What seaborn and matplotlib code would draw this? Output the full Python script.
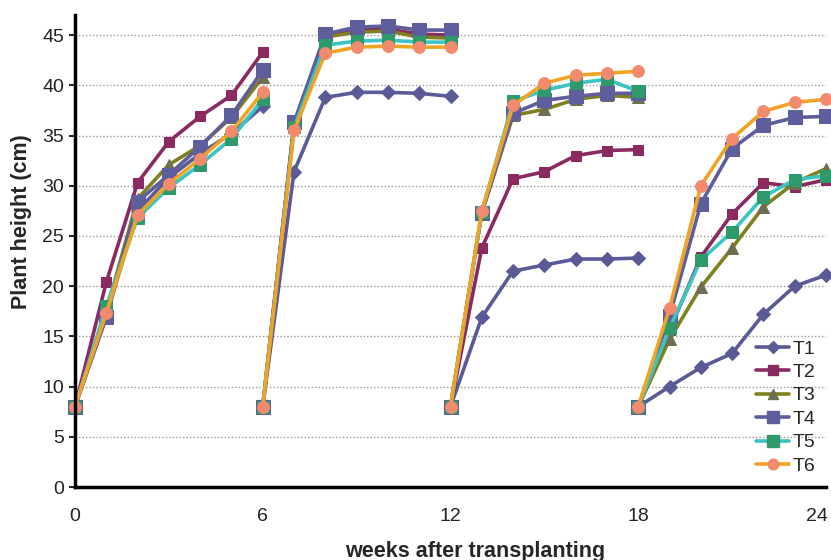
import numpy as np
import pandas as pd
import matplotlib
matplotlib.use("Agg")
import matplotlib.pyplot as plt
import matplotlib.transforms as mtransforms
import seaborn as sns
from matplotlib.lines import Line2D

# ================================
# DATA
# ================================
seg_weeks = [
    [0, 1, 2, 3, 4, 5, 6],
    [6, 7, 8, 9, 10, 11, 12],
    [12, 13, 14, 15, 16, 17, 18],
    [18, 19, 20, 21, 22, 23, 24],
]
treatments = ["T1", "T2", "T3", "T4", "T5", "T6"]

t1 = [[8, 17.0, 27.5, 30.8, 33.2, 35.2, 37.9],
      [8, 31.4, 38.8, 39.3, 39.3, 39.2, 38.9],
      [8, 16.9, 21.5, 22.1, 22.7, 22.7, 22.8],
      [8, 10.0, 11.9, 13.3, 17.2, 20.0, 21.1]]
t2 = [[8, 20.4, 30.3, 34.4, 36.9, 39.0, 43.3],
      [8, 36.0, 45.0, 45.5, 45.6, 45.1, 45.0],
      [8, 23.8, 30.7, 31.4, 33.0, 33.5, 33.6],
      [8, 15.6, 22.9, 27.2, 30.3, 29.9, 30.6]]
t3 = [[8, 17.5, 28.7, 32.1, 34.0, 36.8, 40.8],
      [8, 36.0, 44.8, 45.3, 45.4, 44.8, 44.7],
      [8, 27.3, 37.0, 37.6, 38.6, 39.0, 38.8],
      [8, 14.7, 19.9, 23.8, 27.9, 30.3, 31.7]]
t4 = [[8, 16.9, 28.4, 31.1, 33.9, 37.0, 41.5],
      [8, 36.3, 45.1, 45.8, 45.9, 45.5, 45.5],
      [8, 27.3, 37.2, 38.5, 38.9, 39.2, 39.2],
      [8, 17.0, 28.2, 33.7, 36.0, 36.8, 36.9]]
t5 = [[8, 18.0, 26.8, 29.8, 32.1, 34.7, 38.6],
      [8, 35.8, 44.0, 44.4, 44.5, 44.3, 44.3],
      [8, 27.4, 38.4, 39.5, 40.2, 40.6, 39.4],
      [8, 15.8, 22.6, 25.4, 28.9, 30.6, 31.0]]
t6 = [[8, 17.3, 27.1, 30.2, 32.7, 35.4, 39.3],
      [8, 35.5, 43.2, 43.8, 43.9, 43.8, 43.8],
      [8, 27.5, 38.0, 40.2, 41.0, 41.2, 41.4],
      [8, 17.8, 30.0, 34.7, 37.4, 38.3, 38.6]]
heights = [t1, t2, t3, t4, t5, t6]

# long table: one row per point
rows = []
for name, segs in zip(treatments, heights):
    for s, (wk, vals) in enumerate(zip(seg_weeks, segs)):
        for w, v in zip(wk, vals):
            rows.append({"week": w, "height": v, "treatment": name, "segment": s})
df = pd.DataFrame(rows)

# styles: line colour, marker, marker face, marker size
styles = {
    "T1": dict(color="#5A5A96", marker="D", mfc="#5A5A96", ms=7),
    "T2": dict(color="#8A2A60", marker="s", mfc="#8A2A60", ms=7.5),
    "T3": dict(color="#80801E", marker="^", mfc="#6E6E50", ms=8),
    "T4": dict(color="#5E5E9C", marker="s", mfc="#5E5E9C", ms=10),
    "T5": dict(color="#3CC4C4", marker="s", mfc="#2E9A6C", ms=9),
    "T6": dict(color="#F0A424", marker="o", mfc="#F28A6E", ms=8.5),
}

# ================================
# PLOT
# ================================
sns.set_style("white")
plt.rcParams["font.family"] = ["Liberation Sans", "DejaVu Sans"]

fig = plt.figure(figsize=(8.31, 5.6), dpi=100)
ax = fig.add_axes([75 / 831, 1 - 487 / 560, 751 / 831, 472 / 560])

for name in treatments:
    st = styles[name]
    for s in range(len(seg_weeks)):
        d = df[(df["treatment"] == name) & (df["segment"] == s)]
        sns.lineplot(
            data=d, x="week", y="height", ax=ax,
            color=st["color"], marker=st["marker"],
            markerfacecolor=st["mfc"], markeredgecolor=st["mfc"],
            markersize=st["ms"], linewidth=2.6,
            estimator=None, sort=False, clip_on=False, legend=False,
        )

ax.set_xlim(0, 24)
ax.set_ylim(0, 47)
ax.set_xticks([0, 6, 12, 18, 24])
ax.set_xticks(range(25), minor=True)
ax.set_yticks(range(0, 50, 5))
ax.tick_params(axis="x", which="both", direction="in", length=4, width=1.5,
               labelsize=14, pad=15, colors="black")
ax.tick_params(axis="y", direction="out", length=4, width=1.5,
               labelsize=14, pad=4, left=True)
for lab in ax.get_xticklabels() + ax.get_yticklabels():
    lab.set_color("#222222")

# keep the "24" inside the figure
last = ax.get_xticklabels()[-1]
last.set_transform(last.get_transform() +
                   mtransforms.ScaledTranslation(-9 / 100, 0, fig.dpi_scale_trans))

ax.yaxis.grid(True, linestyle=(0, (1, 1.5)), color="#999999", linewidth=1)
ax.xaxis.grid(False)
ax.set_axisbelow(True)
sns.despine(ax=ax)
for sp in ["left", "bottom"]:
    ax.spines[sp].set_linewidth(2.5)
    ax.spines[sp].set_color("black")

ax.set_xlabel("")
ax.set_ylabel("")
fig.text(475 / 831, 1 - 551 / 560, "weeks after transplanting",
         ha="center", va="center", fontsize=15.5, fontweight="bold")
fig.text(22 / 831, 1 - 222 / 560, "Plant height (cm)", rotation=90,
         ha="center", va="center", fontsize=15.5, fontweight="bold")

handles = [
    Line2D([], [], color=styles[n]["color"], marker=styles[n]["marker"],
           markerfacecolor=styles[n]["mfc"], markeredgecolor=styles[n]["mfc"],
           markersize=styles[n]["ms"] * 0.9, linewidth=2.6)
    for n in treatments
]
ax.legend(handles, treatments, loc="upper left",
          bbox_to_anchor=(756 / 831, 1 - 340 / 560), bbox_transform=fig.transFigure,
          frameon=False, fontsize=14, handlelength=1.7, handletextpad=0.2,
          labelspacing=0.3, borderpad=0, borderaxespad=0)

fig.savefig("out.png", dpi=100)
